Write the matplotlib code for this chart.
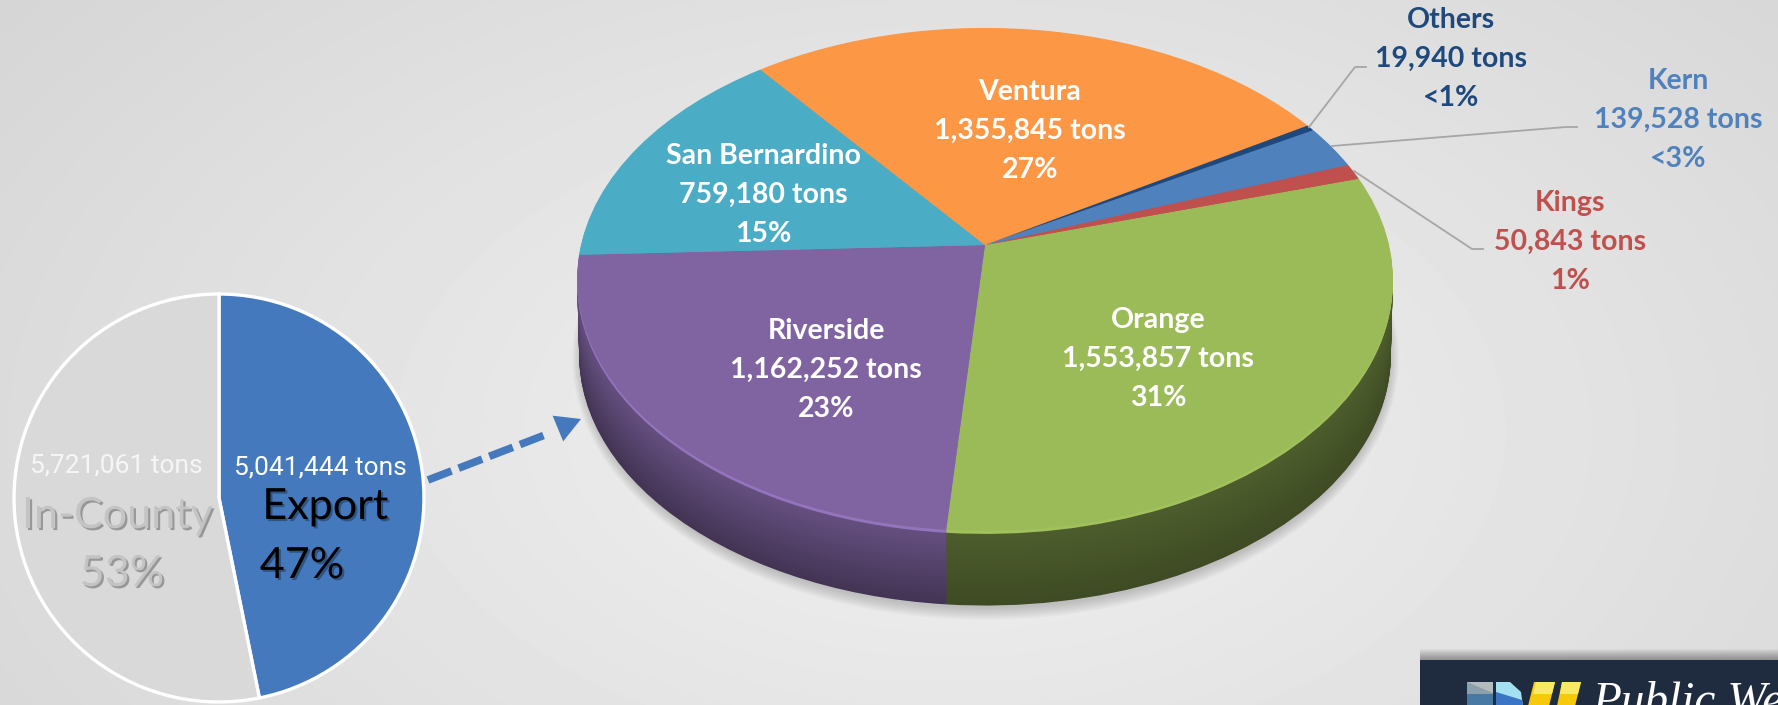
import numpy as np
import matplotlib
matplotlib.use('Agg')
import matplotlib.pyplot as plt
import matplotlib.patheffects as pe
from matplotlib.patches import Polygon, Rectangle, Ellipse
from matplotlib.transforms import Transform

W, H = 1778, 705

split_labels = ['Export', 'In-County']
split_tons = [5041444, 5721061]
split_pcts = ['47%', '53%']
split_colors = ['#4479bd', '#d9d9d9']

counties = ['Orange', 'Riverside', 'San Bernardino', 'Ventura', 'Others', 'Kern', 'Kings']
tons = [1553857, 1162252, 759180, 1355845, 19940, 139528, 50843]
pct_labels = ['31%', '23%', '15%', '27%', '<1%', '<3%', '1%']
colors = ['#9bbb59', '#8064a2', '#4bacc6', '#fb9745', '#1f497d', '#4f81bd', '#c0504d']
# how much each slice darkens on the side wall, top and bottom of the wall
wall_top = [0.50, 0.80, 0.6, 0.6, 0.6, 0.6, 0.6]
wall_bot = [0.40, 0.52, 0.5, 0.5, 0.5, 0.5, 0.5]
rim = [1.03, 1.16, 1, 1, 1, 1, 1]


class Tilt(Transform):
    # tilts the flat unit pie into the perspective of the 3d chart
    input_dims = output_dims = 2

    def __init__(self, cx, cy, a, b, k, s=1.0):
        super().__init__()
        self.p = (cx, cy, a, b, k, s)

    def transform_non_affine(self, xy):
        cx, cy, a, b, k, s = self.p
        xy = np.asarray(xy)
        w = 1 + k * xy[:, 1]
        return np.column_stack([cx + s * a * xy[:, 0] / w, cy + s * b * xy[:, 1] / w])

    def transform_path_non_affine(self, path):
        return matplotlib.path.Path(self.transform_non_affine(path.vertices), path.codes)


def mix(color, f):
    return tuple(min(c * f, 1) for c in matplotlib.colors.to_rgb(color))


def label3(name, value, pct):
    return f'{name}\n{value:,} tons\n{pct}'


fig = plt.figure(figsize=(W / 100, H / 100), dpi=100)

# background
bg = fig.add_axes([0, 0, 1, 1])
yy, xx = np.mgrid[0:H, 0:W]
dist = np.sqrt(((xx - 950) / 1100) ** 2 + ((yy - 430) / 650) ** 2)
bg.imshow(np.clip(0.945 - 0.10 * dist, 0, 1), cmap='gray', vmin=0, vmax=1, aspect='auto')
bg.axis('off')

# soft shadow under the big pie
for i in range(8):
    bg.add_patch(Ellipse((985, 358), 2 * (404 + i * 1.3), 2 * (250 + i * 1.6), color='k', alpha=0.025, lw=0))

# 3d pie: wall layers from the bottom up, then the top face
ax3d = fig.add_axes([0, 0, 1, 1])
ax3d.patch.set_alpha(0)
cx, cy = 985, H - 245
a3d, b3d, k3d = 404, 246.8, 0.137
depth = 76
start = 16.2
for d in range(depth, -1, -1):
    frac = d / depth
    if d == 0:
        shades = [1.0] * len(colors)
    elif d <= 3:
        shades = rim
    else:
        shades = [t + (b - t) * frac for t, b in zip(wall_top, wall_bot)]
    wedges = ax3d.pie(tons, colors=[mix(c, s) for c, s in zip(colors, shades)], startangle=start,
                      counterclock=False, radius=1)[0]
    tilt = Tilt(cx, cy - d, a3d, b3d, k3d, 1 - 0.005 * frac)
    for w in wedges:
        w.set_transform(tilt + ax3d.transData)
        w.set_clip_on(False)
ax3d.set_aspect('auto')
ax3d.set_xlim(0, W)
ax3d.set_ylim(0, H)
ax3d.axis('off')

# in-county / export pie
ax2 = fig.add_axes([(219 - 206) / W, (H - 703) / H, 412 / W, 410 / H])
ax2.pie(split_tons, colors=split_colors, startangle=90, counterclock=False, radius=1,
        wedgeprops={'edgecolor': 'white', 'linewidth': 2.4})
ax2.set_aspect('auto')
ax2.set_xlim(-1.005, 1.005)
ax2.set_ylim(-1.005, 1.005)
ax2.axis('off')

# overlay in pixel coordinates
ax = fig.add_axes([0, 0, 1, 1])
ax.set_xlim(0, W)
ax.set_ylim(H, 0)
ax.axis('off')
ax.patch.set_alpha(0)

bold = dict(family='Lato', fontweight='bold', fontsize=20.5, ha='center', va='center', linespacing=1.6)
ax.text(1030, 131, label3('Ventura', tons[3], pct_labels[3]), color='white', **bold)
ax.text(763, 195, label3('San Bernardino', tons[2], pct_labels[2]), color='white', **bold)
ax.text(826, 370, label3('Riverside', tons[1], pct_labels[1]), color='white', **bold)
ax.text(1158, 359, label3('Orange', tons[0], pct_labels[0]), color='white', **bold)
ax.text(1451, 59, label3('Others', tons[4], pct_labels[4]), color=colors[4], **bold)
ax.text(1678, 120, label3('Kern', tons[5], pct_labels[5]), color=colors[5], **bold)
ax.text(1570, 242, label3('Kings', tons[6], pct_labels[6]), color=colors[6], **bold)

# leader lines
ax.plot([1309, 1355, 1366], [127, 67, 67], color='#a6a6a6', lw=1.3)
ax.plot([1332, 1566, 1577], [146, 127, 127], color='#a6a6a6', lw=1.3)
ax.plot([1354, 1472, 1483], [171, 249, 249], color='#a6a6a6', lw=1.3)

# left pie labels
ax.text(116, 466, f'{split_tons[1]:,} tons', color='#f6f6f6', family='Roboto',
        fontsize=19, ha='center', va='center')
ax.text(320, 468, f'{split_tons[0]:,} tons', color='white', family='Roboto',
        fontsize=19, ha='center', va='center')
shadow_fx = [pe.SimplePatchShadow(offset=(1.5, -1.5), shadow_rgbFace='k', alpha=0.3), pe.Normal()]
ax.text(117, 516, split_labels[1], color='#c4c4c4', family='Lato', fontsize=31,
        ha='center', va='center', path_effects=shadow_fx)
ax.text(122, 574, split_pcts[1], color='#c4c4c4', family='Lato', fontsize=31,
        ha='center', va='center', path_effects=shadow_fx)
ax.text(325, 507, split_labels[0], color='black', family='Lato', fontsize=31,
        ha='center', va='center', path_effects=shadow_fx)
ax.text(302, 566, split_pcts[0], color='black', family='Lato', fontsize=31,
        ha='center', va='center', path_effects=shadow_fx)

# dashed arrow between the pies
ax.plot([428, 550], [480, 433], color='#4479bd', lw=5.5, dashes=(3.3, 1), dash_capstyle='butt')
ax.annotate('', xy=(581, 419), xytext=(547, 433),
            arrowprops=dict(arrowstyle='-|>,head_length=1.8,head_width=1.0', color='#4479bd',
                            lw=0, shrinkA=0, shrinkB=0, mutation_scale=10))

# logo at bottom right, cut off by the figure edge
for i in range(12):
    ax.add_patch(Rectangle((1420, 660 - i), W - 1420, 50, color='k', alpha=0.035, lw=0))
ax.add_patch(Rectangle((1420, 660), W - 1420, 50, color='#1f2c3f', lw=0, zorder=3))
ax.add_patch(Rectangle((1467, 682), 26, 24, color='#8aa0aa', lw=0, zorder=4))
ax.add_patch(Polygon([(1467, 682), (1493, 682), (1493, 693)], color='#b4bcc0', lw=0, zorder=4))
ax.add_patch(Rectangle((1467, 694), 26, 12, color='#4878a4', lw=0, zorder=4))
ax.add_patch(Polygon([(1496, 682), (1510, 682), (1521, 692), (1523, 706), (1496, 706)],
                     color='#a3e0f2', lw=0, zorder=4))
ax.add_patch(Polygon([(1496, 692), (1522, 700), (1523, 706), (1496, 706)],
                     color='#3a74c4', lw=0, zorder=4))
ax.add_patch(Polygon([(1528, 706), (1534, 682), (1555, 682), (1549, 706)],
                     color='#f6ca0a', lw=0, zorder=4))
ax.add_patch(Polygon([(1557, 706), (1562, 682), (1581, 682), (1575, 706)],
                     color='#f6ca0a', lw=0, zorder=4))
ax.add_patch(Polygon([(1533, 694), (1536, 682), (1555, 682), (1552, 694)],
                     color='#f8ea64', lw=0, zorder=5))
ax.add_patch(Polygon([(1560, 694), (1562, 682), (1581, 682), (1578, 694)],
                     color='#f8ea64', lw=0, zorder=5))
ax.text(1592, 714, 'Public We', color='white', family='Liberation Serif', style='italic',
        fontsize=34, ha='left', va='baseline', zorder=5, clip_on=True)

fig.savefig('out.png', dpi=100)
